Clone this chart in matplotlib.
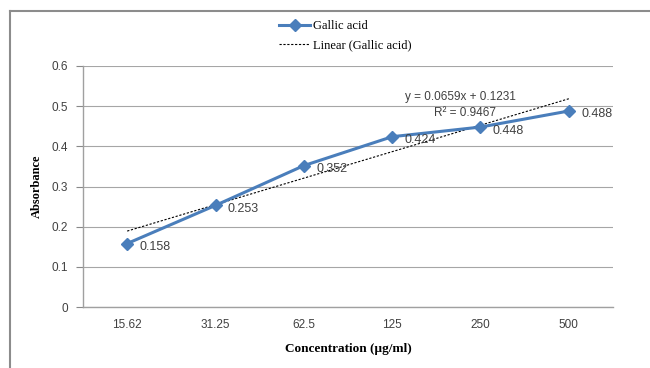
import matplotlib
matplotlib.use("Agg")
import matplotlib.pyplot as plt
from matplotlib.lines import Line2D
import numpy as np

categories = ["15.62", "31.25", "62.5", "125", "250", "500"]
absorbance = [0.158, 0.253, 0.352, 0.424, 0.448, 0.488]
slope = 0.0659
intercept = 0.1231
r2 = 0.9467
yticks = [0, 0.1, 0.2, 0.3, 0.4, 0.5, 0.6]

fig = plt.figure(figsize=(6.5, 3.68), dpi=100)
ax = fig.add_axes([83/650, 1-307/368, (613-83)/650, (307-66)/368])

x = np.arange(1, len(categories)+1)
line_color = "#4a7ebb"
ax.plot(x, absorbance, color=line_color, lw=2.2, marker="D", ms=6,
        label="Gallic acid", zorder=3)
fit = slope * x + intercept
ax.plot(x, fit, color="black", lw=0.8, ls=(0, (2, 1.5)), label="Linear (Gallic acid)", zorder=2)

for xi, v in zip(x, absorbance):
    ax.annotate(f"{v:g}", (xi, v), xytext=(9, -2.5), textcoords="offset points",
                fontsize=9, color="#404040", family="Liberation Sans", va="center", ha="left")

ax.text(4.15, 0.515, f"y = {slope}x + {intercept}", fontsize=8.5, color="#404040",
        family="Liberation Sans")
ax.text(4.47, 0.476, f"R² = {r2}", fontsize=8.5, color="#404040",
        family="Liberation Sans")

ax.set_xlim(0.5, 6.5)
ax.set_ylim(0, 0.6)
ax.set_yticks(yticks)
ax.set_yticklabels([f"{t:g}" for t in yticks], family="Liberation Sans", fontsize=8.5, color="#404040")
ax.set_xticks(x)
ax.set_xticklabels(categories, family="Liberation Sans", fontsize=8.5, color="#404040")
ax.tick_params(axis="x", length=0, pad=9)
ax.tick_params(axis="y", length=5, color="#888888", pad=6)
ax.grid(axis="y", color="#a6a6a6", lw=0.8)
ax.set_axisbelow(True)
for s in ["top", "right"]:
    ax.spines[s].set_visible(False)
for s in ["left", "bottom"]:
    ax.spines[s].set_color("#a0a0a0")
    ax.spines[s].set_linewidth(1.0)

ax.set_ylabel("Absorbance", family="Liberation Serif", fontweight="bold", fontsize=9, labelpad=6)
ax.set_xlabel("Concentration (µg/ml)", family="Liberation Serif", fontweight="bold", fontsize=9.5, labelpad=8)

leg = fig.legend(loc="upper center", bbox_to_anchor=(345/650, 1-9/368), frameon=False,
                 prop={"family": "Liberation Serif", "size": 9}, handlelength=2.5,
                 labelspacing=0.55, handletextpad=0.2)

# outer chart frame
fig.add_artist(Line2D([10/650, 1.0], [1-11/368, 1-11/368], transform=fig.transFigure,
                      color="#8c8c8c", lw=1.5))
fig.add_artist(Line2D([10/650, 10/650], [0, 1-11/368], transform=fig.transFigure,
                      color="#8c8c8c", lw=1.5))

fig.savefig("out.png", dpi=100)
